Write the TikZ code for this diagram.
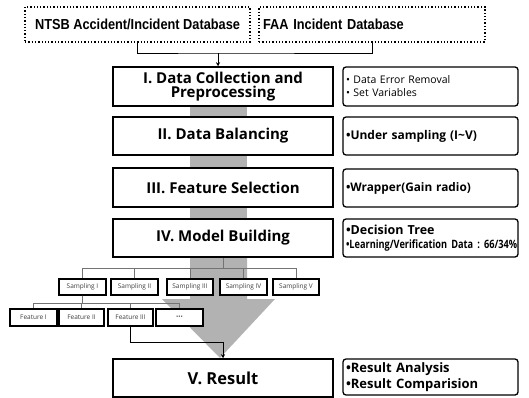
\documentclass[tikz,border=0pt]{standalone}
\usepackage{fontspec}
\setmainfont{Open Sans}
\newfontfamily\narrowfont[FakeStretch=0.88]{Liberation Sans}
\newfontfamily\condfont[FakeStretch=0.8]{Open Sans}
\usetikzlibrary{arrows.meta}
\begin{document}
\begin{tikzpicture}[x=1pt,y=-1pt,
  dbbox/.style={draw, dotted, line width=1.3pt, minimum height=35pt, inner sep=0pt, font=\narrowfont\bfseries\fontsize{14.5}{16}\selectfont},
  mainbox/.style={draw, line width=1.5pt, fill=white, minimum width=220pt, inner sep=0pt, align=center, font=\bfseries\fontsize{15}{17}\selectfont},
  notebox/.style={draw, line width=1.3pt, rounded corners=3pt, fill=white, minimum width=175pt, text width=169pt, inner sep=3pt, align=left},
  smallbox/.style={draw, line width=1.1pt, fill=white, minimum height=16pt, inner sep=0pt, text=black!75, font=\fontsize{6.5}{8}\selectfont},
  treeline/.style={draw=black!55, line width=0.8pt},
  link/.style={draw=black, line width=0.9pt}]
\useasboundingbox (0,0) rectangle (529,398);

% gray band and big arrow
\fill[black!30] (190,106) rectangle (247,258);
\fill[black!30] (190,257) -- (247,257) -- (247,299) -- (275,299) -- (220,358) -- (162,299) -- (190,299) -- cycle;

% databases
\node[dbbox, minimum width=225pt] (ntsb) at (137.5,24.5) {NTSB Accident/Incident Database};
\node[dbbox, minimum width=226pt, text width=218pt, align=left] (faa) at (372,24.5) {FAA Incident Database};
\coordinate (j) at (218,53);
\draw[link] (ntsb.south) |- (j) -| (faa.south);

% main boxes
\node[mainbox, minimum height=39pt] (b1) at (223,86.5) {I. Data Collection and\\[-3pt]Preprocessing};
\node[mainbox, minimum height=38pt] (b2) at (223,136) {II. Data Balancing};
\node[mainbox, minimum height=39pt] (b3) at (223,187.5) {III. Feature Selection};
\node[mainbox, minimum height=38pt] (b4) at (223,238) {IV. Model Building};
\node[mainbox, minimum height=38pt, font=\bfseries\fontsize{16.5}{20}\selectfont] (b5) at (223,378) {V. Result};
\draw[link, -{Stealth[length=4pt,width=4pt]}] (j) -- (j |- b1.north);

% note boxes
\node[notebox, minimum height=39pt, font=\fontsize{10.5}{13}\selectfont] (n1) at (430.5,86.5) {• Data Error Removal\\• Set Variables};
\node[notebox, minimum height=38pt, font=\bfseries\fontsize{12}{14}\selectfont] (n2) at (430.5,136) {•Under sampling (I\textasciitilde V)};
\node[notebox, minimum height=38pt, font=\bfseries\fontsize{11.8}{14}\selectfont] (n3) at (430.5,188) {•Wrapper(Gain radio)};
\node[notebox, minimum height=38pt, font=\bfseries\fontsize{12.5}{13.5}\selectfont] (n4) at (430.5,238) {•Decision Tree\\\makebox[169pt][l]{\condfont\bfseries\fontsize{11.5}{13.5}\selectfont •Learning/Verification Data~:~66/34\%}};
\node[notebox, minimum height=36pt, font=\bfseries\fontsize{13}{15.5}\selectfont] (n5) at (430.5,377) {•Result Analysis\\•Result Comparision};

% sampling
\node[smallbox, minimum width=47pt] (s1) at (82.5,287) {Sampling I};
\node[smallbox, minimum width=47pt] (s2) at (134.5,287) {Sampling II};
\node[smallbox, minimum width=46pt] (s3) at (190,287) {Sampling III};
\node[smallbox, minimum width=47pt] (s4) at (243.5,287) {Sampling IV};
\node[smallbox, minimum width=46pt] (s5) at (296,287) {Sampling V};
\foreach \s in {s1,s2,s3,s4,s5} \draw[treeline] (b4.south) -- ++(0,11) -| (\s.north);

% features
\node[smallbox, minimum width=47pt, minimum height=17pt] (f1) at (33.5,317.5) {Feature I};
\node[smallbox, minimum width=45pt, minimum height=17pt] (f2) at (81.5,317.5) {Feature II};
\node[smallbox, minimum width=45pt, minimum height=17pt] (f3) at (130.5,317.5) {Feature III};
\node[smallbox, minimum width=47pt, minimum height=17pt, font=\bfseries\fontsize{8}{9}\selectfont] (f4) at (179.5,317.5) {···};
\foreach \f in {f1,f2,f3,f4} \draw[treeline] (s1.south) -- ++(0,8) -| (\f.north);

\draw[link, -{Stealth[length=4pt,width=4pt]}] (f3.south) -- ++(0,16) -| (b5.north);
\end{tikzpicture}
\end{document}
